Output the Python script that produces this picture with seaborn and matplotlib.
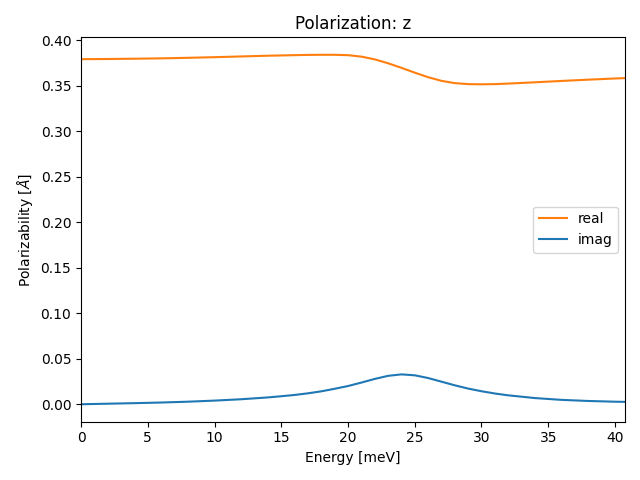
import matplotlib
matplotlib.use("Agg")
import matplotlib.pyplot as plt
import seaborn as sns
import pandas as pd

energy = [0, 2, 4, 6, 8, 10, 12, 14, 15, 16, 17, 18, 19, 20, 21, 22, 23, 24, 25, 26, 27, 28, 29, 30, 31, 32, 34, 36, 38, 40, 40.75]
real = [0.3790, 0.3792, 0.3795, 0.3799, 0.3805, 0.3812, 0.3820, 0.3828, 0.3831, 0.3834, 0.3837, 0.3838, 0.3838, 0.3834, 0.3818, 0.3788, 0.3745, 0.3695, 0.3642, 0.3592, 0.3552, 0.3527, 0.3516, 0.3514, 0.3516, 0.3522, 0.3536, 0.3551, 0.3565, 0.3578, 0.3582]
imag = [0.0000, 0.0006, 0.0012, 0.0019, 0.0028, 0.0040, 0.0055, 0.0075, 0.0088, 0.0102, 0.0120, 0.0142, 0.0170, 0.0200, 0.0238, 0.0278, 0.0312, 0.0328, 0.0318, 0.0288, 0.0248, 0.0208, 0.0172, 0.0143, 0.0118, 0.0098, 0.0068, 0.0048, 0.0036, 0.0028, 0.0026]

df = pd.DataFrame({"energy": energy, "real": real, "imag": imag})

fig, ax = plt.subplots(figsize=(6.4, 4.8), dpi=100)
sns.lineplot(data=df, x="energy", y="real", ax=ax, color="#ff7f0e", label="real")
sns.lineplot(data=df, x="energy", y="imag", ax=ax, color="#1f77b4", label="imag")
ax.set_xlim(min(energy), max(energy))
ax.set_xlabel("Energy [meV]")
ax.set_ylabel(r"Polarizability [$\AA$]")
ax.set_title("Polarization: z")
ax.legend(loc="center right")
fig.tight_layout()
fig.savefig("out.png", dpi=100)
